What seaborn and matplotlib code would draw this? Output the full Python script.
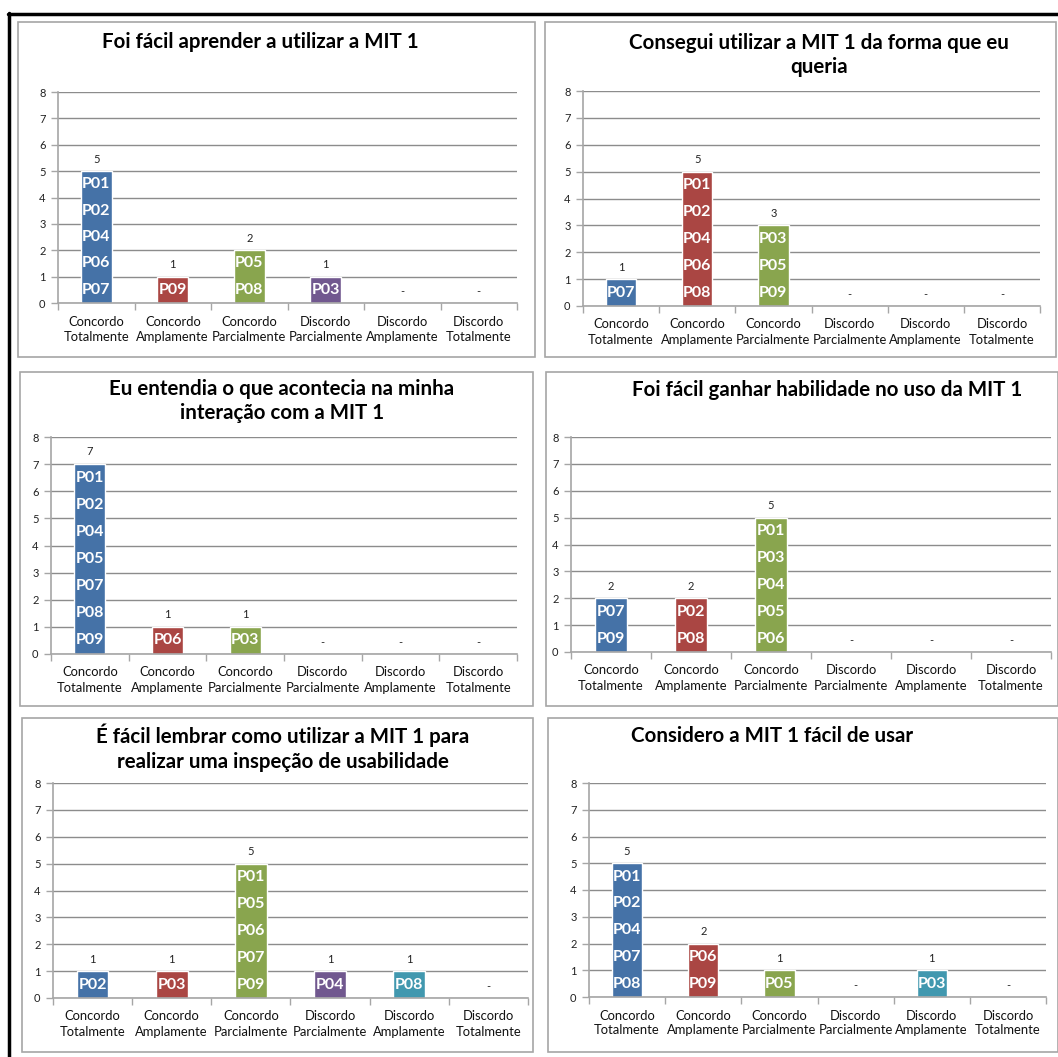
import matplotlib
matplotlib.use("Agg")
import matplotlib.pyplot as plt
from matplotlib.patches import Rectangle
from matplotlib.lines import Line2D
from matplotlib.ticker import FixedLocator
import pandas as pd
import seaborn as sns

sns.set_style("white")
plt.rcParams["font.family"] = ["Lato", "DejaVu Sans"]

# ---- data -------------------------------------------------------------
categorias = ["Concordo\nTotalmente", "Concordo\nAmplamente", "Concordo\nParcialmente",
              "Discordo\nParcialmente", "Discordo\nAmplamente", "Discordo\nTotalmente"]
cores = ["#4572A7", "#AA4643", "#89A54E", "#71588F", "#4198AF", "#DB843D"]
ticks_y = [0, 1, 2, 3, 4, 5, 6, 7, 8]

titulo_1 = "Foi fácil aprender a utilizar a MIT 1"
contagem_1 = [5, 1, 2, 1, 0, 0]
participantes_1 = [["P01", "P02", "P04", "P06", "P07"], ["P09"], ["P05", "P08"], ["P03"], [], []]

titulo_2 = "Consegui utilizar a MIT 1 da forma que eu\nqueria"
contagem_2 = [1, 5, 3, 0, 0, 0]
participantes_2 = [["P07"], ["P01", "P02", "P04", "P06", "P08"], ["P03", "P05", "P09"], [], [], []]

titulo_3 = "Eu entendia o que acontecia na minha\ninteração com a MIT 1"
contagem_3 = [7, 1, 1, 0, 0, 0]
participantes_3 = [["P01", "P02", "P04", "P05", "P07", "P08", "P09"], ["P06"], ["P03"], [], [], []]

titulo_4 = "Foi fácil ganhar habilidade no uso da MIT 1"
contagem_4 = [2, 2, 5, 0, 0, 0]
participantes_4 = [["P07", "P09"], ["P02", "P08"], ["P01", "P03", "P04", "P05", "P06"], [], [], []]

titulo_5 = "É fácil lembrar como utilizar a MIT 1 para\nrealizar uma inspeção de usabilidade"
contagem_5 = [1, 1, 5, 1, 1, 0]
participantes_5 = [["P02"], ["P03"], ["P01", "P05", "P06", "P07", "P09"], ["P04"], ["P08"], []]

titulo_6 = "Considero a MIT 1 fácil de usar"
contagem_6 = [5, 2, 1, 0, 1, 0]
participantes_6 = [["P01", "P02", "P04", "P07", "P08"], ["P06", "P09"], ["P05"], [], ["P03"], []]

graficos = [
    (titulo_1, contagem_1, participantes_1),
    (titulo_2, contagem_2, participantes_2),
    (titulo_3, contagem_3, participantes_3),
    (titulo_4, contagem_4, participantes_4),
    (titulo_5, contagem_5, participantes_5),
    (titulo_6, contagem_6, participantes_6),
]

# ---- layout (pixels) --------------------------------------------------
W, H = 1058, 1057
# frame box (x0, y0, x1, y1), plot area (x0, x1, y_top, y_zero), title centre (x, y)
paineis = [
    ((18, 22, 535, 357), (58, 517, 92, 303), (260, 42)),
    ((545, 22, 1056, 357), (583, 1040, 91, 306), (819, 55)),
    ((20, 372, 533, 706), (51, 517, 437, 654), (282, 401)),
    ((546, 372, 1058, 706), (571, 1051, 437, 652), (827, 390)),
    ((22, 718, 533, 1052), (53, 528, 783, 998), (283, 748)),
    ((548, 718, 1058, 1052), (589, 1046, 783, 997), (772, 736)),
]

fig = plt.figure(figsize=(W / 100, H / 100), dpi=100)
fig.patch.set_facecolor("white")


def fx(x):
    return x / W


def fy(y):
    return 1 - y / H


# outer black frame (top and left edges)
fig.add_artist(Line2D([fx(8), fx(W)], [fy(14), fy(14)], color="black", lw=2.5,
                      transform=fig.transFigure))
fig.add_artist(Line2D([fx(9), fx(9)], [fy(13), fy(H)], color="black", lw=2.5,
                      transform=fig.transFigure))

cinza = "#A6A6A6"

for (titulo, contagem, participantes), (caixa, area, tpos) in zip(graficos, paineis):
    bx0, by0, bx1, by1 = caixa
    fig.add_artist(Rectangle((fx(bx0), fy(by1)), fx(bx1) - fx(bx0), fy(by0) - fy(by1),
                             transform=fig.transFigure, fill=False,
                             edgecolor=cinza, lw=1.2))
    ax0, ax1, ytop, yzero = area
    ax = fig.add_axes([fx(ax0), fy(yzero), fx(ax1) - fx(ax0), (yzero - ytop) / H])

    df = pd.DataFrame({"categoria": categorias, "valor": contagem})
    sns.barplot(data=df, x="categoria", y="valor", hue="categoria", palette=cores,
                order=categorias, hue_order=categorias, width=0.4, legend=False,
                saturation=1, ax=ax, zorder=2)

    ax.set_xlim(-0.5, 5.5)
    ax.set_ylim(0, 8)
    ax.set_yticks(ticks_y)
    ax.yaxis.grid(True, color="#8C8C8C", lw=1)
    ax.set_axisbelow(True)
    ax.set_xlabel("")
    ax.set_ylabel("")
    for s in ("top", "right"):
        ax.spines[s].set_visible(False)
    for s in ("left", "bottom"):
        ax.spines[s].set_color(cinza)
        ax.spines[s].set_linewidth(1.2)
    ax.tick_params(axis="y", length=5, width=1, color=cinza, labelsize=8,
                   labelcolor="#222222", pad=4, left=True)
    ax.tick_params(axis="x", which="major", length=0, labelsize=9.4,
                   labelcolor="#111111", pad=9)
    ax.xaxis.set_minor_locator(FixedLocator([i - 0.5 for i in range(7)]))
    ax.tick_params(axis="x", which="minor", length=5, width=1, color=cinza,
                   bottom=True)
    for lab in ax.get_xticklabels():
        lab.set_linespacing(1.3)

    for i, (v, nomes) in enumerate(zip(contagem, participantes)):
        if v > 0:
            ax.text(i, v + 0.45, str(v), ha="center", va="center",
                    fontsize=8, color="#222222")
            for k, nome in enumerate(nomes):
                ax.text(i, v - k - 0.5, nome, ha="center", va="center",
                        fontsize=11.5, fontweight="bold", color="white", zorder=3)
        else:
            ax.text(i, 0.42, "-", ha="center", va="center", fontsize=8,
                    color="#222222")

    fig.text(fx(tpos[0]), fy(tpos[1]), titulo, ha="center", va="center",
             fontsize=14.8, fontweight="bold", color="black", linespacing=1.3)

fig.savefig("out.png", dpi=100, facecolor="white")
